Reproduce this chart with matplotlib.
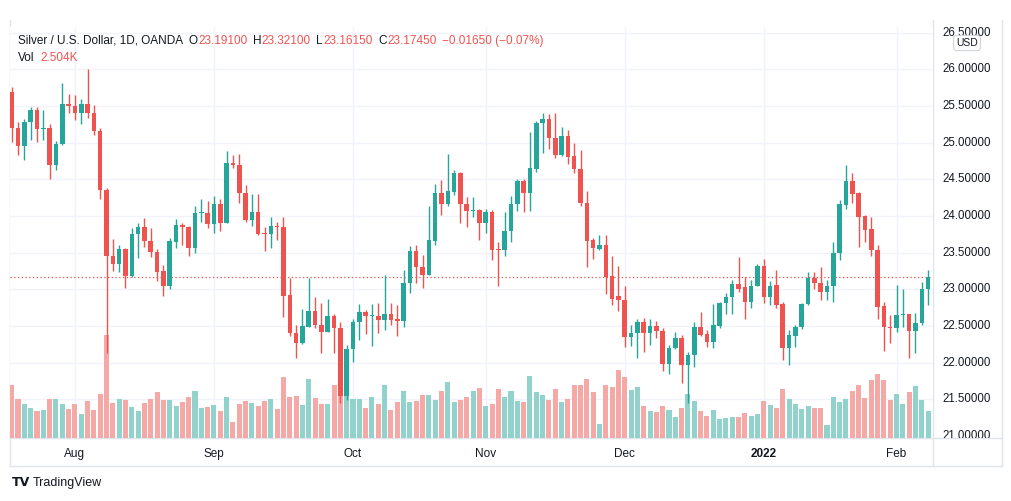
import numpy as np
import pandas as pd
import matplotlib
matplotlib.use("Agg")
import matplotlib.pyplot as plt

# ---------------- data ----------------
dates = pd.bdate_range("2021-07-19", "2022-02-08").drop(pd.Timestamp("2021-12-24"))

opens = [25.69, 25.20, 24.95, 25.28, 25.45, 25.18, 25.20, 24.69, 24.98, 25.53,
         25.50, 25.41, 25.53, 25.40, 25.16, 24.36, 23.46, 23.35, 23.55, 23.18,
         23.76, 23.85, 23.66, 23.51, 23.25, 23.04, 23.65, 23.88, 23.85, 23.56,
         24.04, 24.04, 23.89, 24.16, 23.91, 24.72, 24.70, 24.32, 23.95, 24.05,
         23.76, 23.75, 23.87, 23.85, 22.92, 22.41, 22.27, 22.49, 22.70, 22.52,
         22.42, 22.64, 22.47, 21.54, 22.18, 22.55, 22.69, 22.63, 22.64, 22.58,
         22.67, 22.59, 22.57, 23.09, 23.52, 23.31, 23.20, 23.66, 24.31, 24.16,
         24.33, 24.58, 24.16, 24.07, 24.08, 23.90, 24.05, 23.55, 23.53, 23.79,
         24.17, 24.48, 24.31, 24.64, 25.27, 25.32, 25.07, 24.83, 25.09, 24.82,
         24.64, 24.18, 23.67, 23.55, 23.61, 23.18, 22.91, 22.85, 22.35, 22.40,
         22.56, 22.40, 22.50, 22.43, 21.98, 22.20, 22.34, 21.97, 22.10, 22.49,
         22.39, 22.28, 22.50, 22.81, 22.89, 23.07, 23.03, 22.83, 23.05, 23.32,
         22.90, 23.06, 22.80, 22.20, 22.37, 22.48, 22.80, 23.15, 23.09, 22.97,
         23.04, 23.49, 24.15, 24.48, 24.32, 24.00, 23.82, 23.54, 22.77, 22.49,
         22.47, 22.65, 22.67, 22.43, 22.54, 23.01]
highs = [25.76, 25.28, 25.32, 25.48, 25.48, 25.45, 25.26, 25.02, 25.82, 25.66,
         25.65, 25.60, 26.01, 25.52, 25.20, 24.38, 23.69, 23.60, 23.56, 23.83,
         23.90, 23.97, 23.83, 23.55, 23.33, 23.70, 23.96, 23.90, 23.86, 24.13,
         24.23, 24.21, 24.27, 24.23, 24.89, 24.83, 24.84, 24.42, 24.30, 24.30,
         23.85, 23.98, 23.92, 23.98, 23.15, 22.51, 22.73, 23.16, 22.89, 22.82,
         22.87, 22.67, 22.56, 22.24, 22.60, 22.80, 22.72, 22.80, 22.81, 23.20,
         22.82, 22.79, 23.26, 23.59, 23.60, 23.47, 24.14, 24.44, 24.49, 24.84,
         24.63, 24.60, 24.26, 24.26, 24.10, 24.10, 24.08, 23.64, 24.05, 24.27,
         24.51, 24.51, 25.15, 25.29, 25.40, 25.39, 25.41, 25.22, 25.17, 24.99,
         24.90, 24.34, 23.70, 23.74, 23.74, 23.45, 23.32, 23.05, 22.51, 22.60,
         22.61, 22.60, 22.57, 22.47, 22.24, 22.42, 22.38, 22.14, 22.55, 22.69,
         22.45, 22.80, 22.83, 22.95, 23.13, 23.44, 23.17, 23.13, 23.35, 23.41,
         23.12, 23.26, 22.83, 22.44, 22.52, 22.81, 23.24, 23.23, 23.31, 23.13,
         23.64, 24.22, 24.70, 24.58, 24.33, 24.01, 23.98, 23.60, 22.83, 22.65,
         23.06, 23.00, 22.67, 22.68, 23.10, 23.27]
lows = [25.01, 24.83, 24.77, 25.03, 25.01, 25.04, 24.51, 24.63, 24.97, 25.40,
        25.31, 25.26, 25.33, 25.10, 24.23, 22.13, 23.25, 23.23, 23.02, 23.17,
        23.43, 23.58, 23.44, 23.12, 22.91, 23.00, 23.56, 23.60, 23.45, 23.50,
        23.92, 23.83, 23.77, 23.80, 23.90, 24.66, 24.18, 23.92, 23.87, 23.74,
        23.52, 23.57, 23.67, 22.62, 22.36, 22.06, 22.25, 22.49, 22.47, 22.13,
        22.42, 22.13, 21.45, 21.49, 22.01, 22.31, 22.39, 22.23, 22.41, 22.45,
        22.51, 22.36, 22.49, 22.95, 23.09, 23.02, 23.19, 23.60, 24.01, 24.14,
        24.29, 23.90, 23.85, 23.99, 23.67, 23.77, 23.40, 23.04, 23.45, 23.64,
        24.07, 24.05, 24.07, 24.60, 24.86, 24.92, 24.79, 24.82, 24.71, 24.58,
        24.13, 23.30, 23.41, 23.54, 22.93, 22.78, 22.71, 22.21, 22.23, 22.06,
        22.15, 22.24, 22.33, 21.88, 21.85, 22.18, 21.72, 21.45, 21.94, 22.37,
        22.21, 22.20, 22.47, 22.67, 22.67, 22.97, 22.60, 22.75, 23.04, 22.82,
        22.78, 22.74, 22.04, 21.97, 22.21, 22.46, 22.79, 23.00, 22.85, 22.86,
        22.83, 23.40, 24.10, 24.18, 23.58, 23.65, 23.45, 22.60, 22.16, 22.27,
        22.42, 22.49, 22.07, 22.13, 22.51, 22.79]
closes = [25.20, 24.95, 25.28, 25.45, 25.18, 25.20, 24.69, 24.98, 25.53, 25.50,
          25.41, 25.53, 25.40, 25.16, 24.35, 23.46, 23.35, 23.55, 23.18, 23.76,
          23.85, 23.66, 23.51, 23.24, 23.04, 23.66, 23.88, 23.85, 23.56, 24.04,
          24.05, 23.89, 24.16, 23.91, 24.72, 24.69, 24.32, 23.95, 24.05, 23.75,
          23.75, 23.86, 23.85, 22.91, 22.41, 22.27, 22.50, 22.70, 22.51, 22.42,
          22.64, 22.47, 21.54, 22.18, 22.55, 22.69, 22.63, 22.64, 22.58, 22.67,
          22.58, 22.57, 23.09, 23.52, 23.31, 23.20, 23.67, 24.31, 24.16, 24.34,
          24.58, 24.16, 24.07, 24.08, 23.90, 24.05, 23.54, 23.53, 23.79, 24.17,
          24.48, 24.31, 24.65, 25.27, 25.32, 25.07, 24.83, 25.09, 24.81, 24.64,
          24.18, 23.66, 23.56, 23.61, 23.17, 22.87, 22.85, 22.35, 22.40, 22.56,
          22.40, 22.50, 22.43, 21.98, 22.20, 22.33, 21.97, 22.10, 22.49, 22.38,
          22.28, 22.51, 22.81, 22.89, 23.07, 23.01, 22.83, 23.05, 23.32, 22.90,
          23.05, 22.79, 22.20, 22.38, 22.49, 22.80, 23.15, 23.09, 22.97, 23.05,
          23.49, 24.16, 24.48, 24.30, 23.99, 23.81, 23.53, 22.76, 22.48, 22.47,
          22.65, 22.66, 22.43, 22.54, 23.01, 23.1745]
volumes_k = [4.89, 3.57, 3.15, 2.75, 2.44, 2.53, 3.57, 3.57, 3.15, 2.69,
             3.15, 2.23, 3.36, 2.53, 4.06, 9.47, 3.21, 3.57, 3.51, 2.84,
             2.50, 3.21, 3.57, 4.18, 3.51, 3.51, 2.96, 3.27, 3.76, 4.34,
             2.75, 2.84, 3.05, 2.44, 3.76, 1.44, 3.15, 3.42, 3.21, 2.96,
             3.42, 3.57, 2.69, 5.59, 3.76, 3.88, 3.05, 5.41, 3.66, 3.15,
             3.15, 4.89, 4.43, 3.97, 3.57, 3.57, 2.75, 3.76, 3.15, 4.89,
             2.60, 3.27, 4.28, 3.27, 3.36, 3.97, 3.97, 3.51, 4.28, 5.10,
             3.27, 3.51, 3.73, 4.28, 4.58, 2.90, 3.15, 4.52, 3.73, 4.34,
             3.36, 3.27, 5.65, 4.18, 3.97, 3.51, 4.52, 3.27, 3.57, 4.89,
             4.89, 5.44, 4.18, 1.31, 4.89, 4.67, 6.26, 5.56, 4.43, 4.67,
             2.90, 2.44, 2.35, 2.96, 2.60, 1.92, 2.75, 4.06, 3.36, 2.44,
             2.05, 2.60, 1.77, 1.83, 1.92, 1.92, 2.29, 1.99, 2.23, 3.36,
             3.05, 2.75, 4.52, 3.57, 3.15, 2.69, 2.90, 2.75, 2.75, 1.22,
             3.76, 3.27, 3.57, 4.34, 4.89, 3.66, 5.28, 5.89, 5.34, 3.45,
             4.06, 3.15, 4.21, 4.79, 3.51, 2.504]

month_labels = ["Aug", "Sep", "Oct", "Nov", "Dec", "2022", "Feb"]
month_starts = ["2021-08-02", "2021-09-01", "2021-10-01", "2021-11-01",
                "2021-12-01", "2022-01-03", "2022-02-01"]
price_ticks = [21.0, 21.5, 22.0, 22.5, 23.0, 23.5, 24.0, 24.5, 25.0, 25.5, 26.0, 26.5]

header_title = "Silver / U.S. Dollar, 1D, OANDA"
header_ohlc = [("O", "23.19100"), ("H", "23.32100"), ("L", "23.16150"), ("C", "23.17450")]
header_change = "\u22120.01650 (\u22120.07%)"
vol_label = "2.504K"

# ---------------- style ----------------
UP = "#26a69a"
DOWN = "#ef5350"
UP_V = "#92d2cc"
DOWN_V = "#f5a9a7"
TXT = "#131722"
GRID = "#f0f3fa"
BORDER = "#e0e3eb"
FONT = "Liberation Sans"

W, H = 1012, 501
fig = plt.figure(figsize=(W / 100, H / 100), dpi=100)
fig.patch.set_facecolor("white")


def rect(x0, y0, x1, y1):
    return [x0 / W, 1 - y1 / H, (x1 - x0) / W, (y1 - y0) / H]


bg = fig.add_axes([0, 0, 1, 1], zorder=0)
bg.set_xlim(0, W)
bg.set_ylim(H, 0)
bg.axis("off")

PL, PT, PR, PB = 10, 27, 933, 438
YB = 26 - (PB - 69.33) / 73.33
YT = 26 - (PT - 69.33) / 73.33

x = np.arange(len(dates))
o = np.array(opens); c = np.array(closes); hi = np.array(highs); lo = np.array(lows)
up = c >= o

axv = fig.add_axes(rect(PL, PT, PR, PB), zorder=1)
ax = fig.add_axes(rect(PL, PT, PR, PB), zorder=2)
ax.patch.set_alpha(0)
axv.set_facecolor("white")

XL, XR = -0.27, 145.77
for a in (ax, axv):
    a.set_xlim(XL, XR)
    for s in a.spines.values():
        s.set_visible(False)
ax.set_ylim(YB, YT)
axv.set_ylim(0, 37.7)
axv.set_yticks([])
axv.set_xticks([])

tick_idx = dates.get_indexer(pd.to_datetime(month_starts))

# grid
for p in price_ticks:
    axv.plot([XL, XR], [p, p], color=GRID, lw=1.0, transform=ax.transData, zorder=0)
for t in tick_idx:
    axv.axvline(t, color=GRID, lw=1.0, zorder=0)

# volume
axv.bar(x, volumes_k, width=0.8, color=np.where(up, UP_V, DOWN_V), zorder=2)

# candles
cols = np.where(up, UP, DOWN)
ax.vlines(x, lo, hi, colors=cols, lw=1.0, zorder=3)
body_bot = np.minimum(o, c)
body_h = np.maximum(np.abs(c - o), 0.014)
ax.bar(x, body_h, bottom=body_bot, width=0.72, color=cols, lw=0, zorder=4)

# last price dotted line
ax.axhline(closes[-1], color=DOWN, lw=0.9, ls=(0, (1, 2)), zorder=2)

ax.set_yticks([])
ax.set_xticks(tick_idx)
ax.set_xticklabels(month_labels, fontsize=8.5, color=TXT, family=FONT)
ax.tick_params(axis="x", length=0, pad=7)
for lab in ax.get_xticklabels():
    if lab.get_text() == "2022":
        lab.set_fontweight("bold")

# price scale
axs = fig.add_axes(rect(PR, PT, 1002, PB), zorder=2)
axs.set_ylim(YB, YT)
axs.set_xlim(0, 1)
axs.axis("off")
for p in price_ticks:
    axs.text(0.14, p, f"{p:.5f}", fontsize=8.3, color=TXT, family=FONT,
             va="center", ha="left", clip_on=True)

# USD badge
fig.text(967 / W, 1 - 43 / H, "USD", fontsize=7.5, color=TXT, family=FONT,
         ha="center", va="center",
         bbox=dict(boxstyle="round,pad=0.25,rounding_size=0.3", fc="white", ec="#d1d4dc", lw=0.8),
         zorder=5)

# frame lines
bg.plot([PL, 1002], [PB, PB], color=BORDER, lw=1)
bg.plot([PL, 1002], [466, 466], color=BORDER, lw=1)
bg.plot([PR, PR], [PT - 7, 466], color=BORDER, lw=1)
bg.plot([1002, 1002], [PT - 7, 466], color=BORDER, lw=1)
bg.plot([PL, PL], [PT - 7, 466], color=BORDER, lw=1)

# header
FS = 8.5
t0 = fig.text(18 / W, 1 - 41 / H, header_title, fontsize=FS, color=TXT,
              family=FONT, ha="left", va="center", zorder=6)
prev = t0
for letter, val in header_ohlc:
    lt = ax.annotate(letter, xy=(1, 0.5), xycoords=prev, xytext=(4.0, 0),
                     textcoords="offset points", fontsize=FS, color=TXT,
                     family=FONT, ha="left", va="center", annotation_clip=False)
    vt = ax.annotate(val, xy=(1, 0.5), xycoords=lt, xytext=(0.3, 0),
                     textcoords="offset points", fontsize=FS, color=DOWN,
                     family=FONT, ha="left", va="center", annotation_clip=False)
    prev = vt
ax.annotate(header_change, xy=(1, 0.5), xycoords=prev, xytext=(4.0, 0),
            textcoords="offset points", fontsize=FS, color=DOWN,
            family=FONT, ha="left", va="center", annotation_clip=False)

v0 = fig.text(18 / W, 1 - 58 / H, "Vol", fontsize=FS, color=TXT,
              family=FONT, ha="left", va="center", zorder=6)
ax.annotate(vol_label, xy=(1, 0.5), xycoords=v0, xytext=(4.0, 0),
            textcoords="offset points", fontsize=FS, color=DOWN,
            family=FONT, ha="left", va="center", annotation_clip=False)

# TradingView logo
fig.text(12 / W, 1 - 483 / H, "TV", fontsize=9, color=TXT, family="DejaVu Sans",
         fontweight="bold", ha="left", va="center")
fig.text(33 / W, 1 - 483 / H, "TradingView", fontsize=9, color=TXT, family=FONT,
         ha="left", va="center")

fig.savefig("out.png", dpi=100, facecolor="white")
